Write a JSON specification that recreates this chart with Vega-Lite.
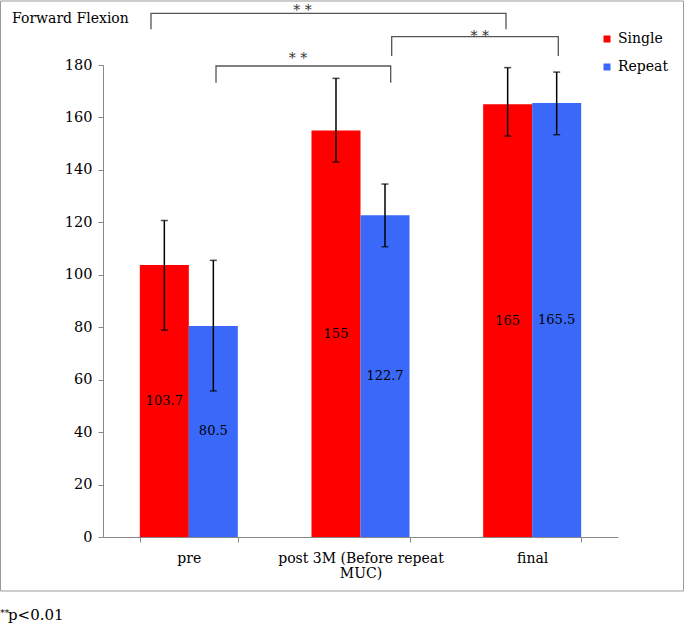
{
  "$schema": "https://vega.github.io/schema/vega-lite/v6.json",
  "width": 515,
  "height": 472,
  "autosize": {"type": "none"},
  "padding": {"left": 103, "top": 65, "right": 67, "bottom": 92},
  "config": {"view": {"stroke": null}, "font": "DejaVu Serif"},
  "datasets": {
    "bars": [
      {"time": "pre", "group": "Single", "mean": 103.7, "lo": 78.9, "hi": 120.7},
      {"time": "pre", "group": "Repeat", "mean": 80.5, "lo": 55.7, "hi": 105.5},
      {"time": "post 3M (Before repeat MUC)", "group": "Single", "mean": 155, "lo": 143, "hi": 174.9},
      {"time": "post 3M (Before repeat MUC)", "group": "Repeat", "mean": 122.7, "lo": 110.7, "hi": 134.6},
      {"time": "final", "group": "Single", "mean": 165, "lo": 152.9, "hi": 179},
      {"time": "final", "group": "Repeat", "mean": 165.5, "lo": 153.4, "hi": 177.3}
    ],
    "brackets": [
      {"b": "pre-final", "k": 1, "x": 0.2796, "y": 193.6},
      {"b": "pre-final", "k": 2, "x": 0.2796, "y": 199.71},
      {"b": "pre-final", "k": 3, "x": 2.3476, "y": 199.71},
      {"b": "pre-final", "k": 4, "x": 2.3476, "y": 193.6},
      {"b": "post-final", "k": 1, "x": 1.6817, "y": 183.43},
      {"b": "post-final", "k": 2, "x": 1.6817, "y": 190.79},
      {"b": "post-final", "k": 3, "x": 2.6522, "y": 190.79},
      {"b": "post-final", "k": 4, "x": 2.6522, "y": 183.43},
      {"b": "pre-post", "k": 1, "x": 0.6583, "y": 173.25},
      {"b": "pre-post", "k": 2, "x": 0.6583, "y": 179.62},
      {"b": "pre-post", "k": 3, "x": 1.6759, "y": 179.62},
      {"b": "pre-post", "k": 4, "x": 1.6759, "y": 173.25}
    ],
    "stars": [
      {"b": "pre-final", "x": 1.1621, "y": 198.95, "label": "*   *"},
      {"b": "post-final", "x": 2.1944, "y": 189.3, "label": "*   *"},
      {"b": "pre-post", "x": 1.1359, "y": 180.6, "label": "*   *"}
    ]
  },
  "layer": [
    {
      "data": {"name": "bars"},
      "encoding": {
        "x": {
          "field": "time",
          "type": "nominal",
          "sort": ["pre", "post 3M (Before repeat MUC)", "final"],
          "scale": {"paddingInner": 0.429, "paddingOuter": 0.2145},
          "axis": {
            "title": null,
            "labelAngle": 0,
            "tickBand": "extent",
            "domainColor": "#888888",
            "tickColor": "#888888",
            "tickSize": 5,
            "labelFont": "DejaVu Serif",
            "labelFontSize": 14,
            "labelColor": "black",
            "labelPadding": 9,
            "labelLineHeight": 15,
            "labelLimit": 300,
            "labelExpr": "datum.value == 'post 3M (Before repeat MUC)' ? ['post 3M (Before repeat', 'MUC)'] : datum.value"
          }
        },
        "xOffset": {
          "field": "group",
          "type": "nominal",
          "sort": ["Single", "Repeat"],
          "scale": {"paddingInner": 0, "paddingOuter": 0}
        }
      },
      "layer": [
        {
          "mark": {"type": "bar"},
          "encoding": {
            "y": {
              "field": "mean",
              "type": "quantitative",
              "scale": {"domain": [0, 180], "nice": false},
              "axis": {
                "title": null,
                "grid": false,
                "values": [0, 20, 40, 60, 80, 100, 120, 140, 160, 180],
                "domainColor": "#888888",
                "tickColor": "#888888",
                "tickSize": 5,
                "labelFont": "DejaVu Serif",
                "labelFontSize": 14.5,
                "labelColor": "black",
                "labelPadding": 6
              }
            },
            "color": {
              "field": "group",
              "type": "nominal",
              "scale": {"domain": ["Single", "Repeat"], "range": ["#FF0000", "#3A68F8"]},
              "legend": {
                "orient": "none",
                "legendX": 497,
                "legendY": -33,
                "title": null,
                "symbolType": "square",
                "symbolSize": 49,
                "symbolStrokeWidth": 0,
                "labelFont": "DejaVu Serif",
                "labelFontSize": 14,
                "labelColor": "black",
                "rowPadding": 14,
                "padding": 0,
                "labelOffset": 4
              }
            }
          }
        },
        {
          "mark": {"type": "rule", "color": "black", "strokeWidth": 1.5},
          "encoding": {
            "y": {"field": "lo", "type": "quantitative", "axis": {"title": null}},
            "y2": {"field": "hi"}
          }
        },
        {
          "mark": {"type": "tick", "color": "black", "thickness": 1.5, "size": 7},
          "encoding": {"y": {"field": "lo", "type": "quantitative", "axis": {"title": null}}}
        },
        {
          "mark": {"type": "tick", "color": "black", "thickness": 1.5, "size": 7},
          "encoding": {"y": {"field": "hi", "type": "quantitative", "axis": {"title": null}}}
        }
      ]
    },
    {
      "data": {"name": "bars"},
      "mark": {"type": "text", "align": "center", "baseline": "middle", "fontSize": 13, "font": "DejaVu Serif", "color": "black"},
      "encoding": {
        "x": {
          "field": "time",
          "type": "nominal",
          "sort": ["pre", "post 3M (Before repeat MUC)", "final"],
          "scale": {"paddingInner": 0.429, "paddingOuter": 0.2145},
          "axis": null
        },
        "xOffset": {
          "field": "group",
          "type": "nominal",
          "sort": ["Single", "Repeat"],
          "scale": {"type": "point", "padding": 0.5}
        },
        "y": {"field": "mean", "type": "quantitative", "scale": {"domain": [0, 360], "nice": false}, "axis": null},
        "text": {"field": "mean", "type": "quantitative"}
      }
    },
    {
      "encoding": {
        "x": {"type": "quantitative", "scale": {"domain": [0, 3], "nice": false, "zero": false}, "axis": null},
        "y": {"type": "quantitative", "scale": {"domain": [0, 180], "nice": false, "zero": false}, "axis": null}
      },
      "layer": [
        {
          "data": {"name": "brackets"},
          "mark": {"type": "line", "color": "#555555", "strokeWidth": 1.3},
          "encoding": {
            "x": {"field": "x", "type": "quantitative"},
            "y": {"field": "y", "type": "quantitative"},
            "detail": {"field": "b"},
            "order": {"field": "k"}
          }
        },
        {
          "data": {"name": "stars"},
          "mark": {"type": "text", "align": "center", "baseline": "alphabetic", "fontSize": 14, "font": "DejaVu Serif", "color": "#333333"},
          "encoding": {
            "x": {"field": "x", "type": "quantitative"},
            "y": {"field": "y", "type": "quantitative"},
            "text": {"field": "label"}
          }
        },
        {
          "data": {"values": [{}]},
          "mark": {"type": "rect", "fillOpacity": 0, "stroke": "#9a9a9a", "strokeWidth": 1},
          "encoding": {
            "x": {"datum": -0.597},
            "x2": {"datum": 3.3816},
            "y": {"datum": 204.41},
            "y2": {"datum": -20.59}
          }
        },
        {
          "data": {"values": [{}]},
          "mark": {"type": "text", "align": "left", "baseline": "alphabetic", "fontSize": 14, "font": "DejaVu Serif", "color": "black", "text": "Forward Flexion"},
          "encoding": {"x": {"datum": -0.53}, "y": {"datum": 196.13}}
        },
        {
          "data": {"values": [{}]},
          "mark": {"type": "text", "align": "left", "baseline": "alphabetic", "fontSize": 15, "font": "DejaVu Serif", "color": "black", "text": "p<0.01"},
          "encoding": {"x": {"datum": -0.5534}, "y": {"datum": -31.65}}
        },
        {
          "data": {"values": [{}]},
          "mark": {"type": "text", "align": "left", "baseline": "alphabetic", "fontSize": 9, "font": "DejaVu Serif", "color": "black", "text": "**"},
          "encoding": {"x": {"datum": -0.598}, "y": {"datum": -30.13}}
        }
      ]
    }
  ],
  "resolve": {"scale": {"x": "independent", "y": "independent", "xOffset": "independent"}}
}
